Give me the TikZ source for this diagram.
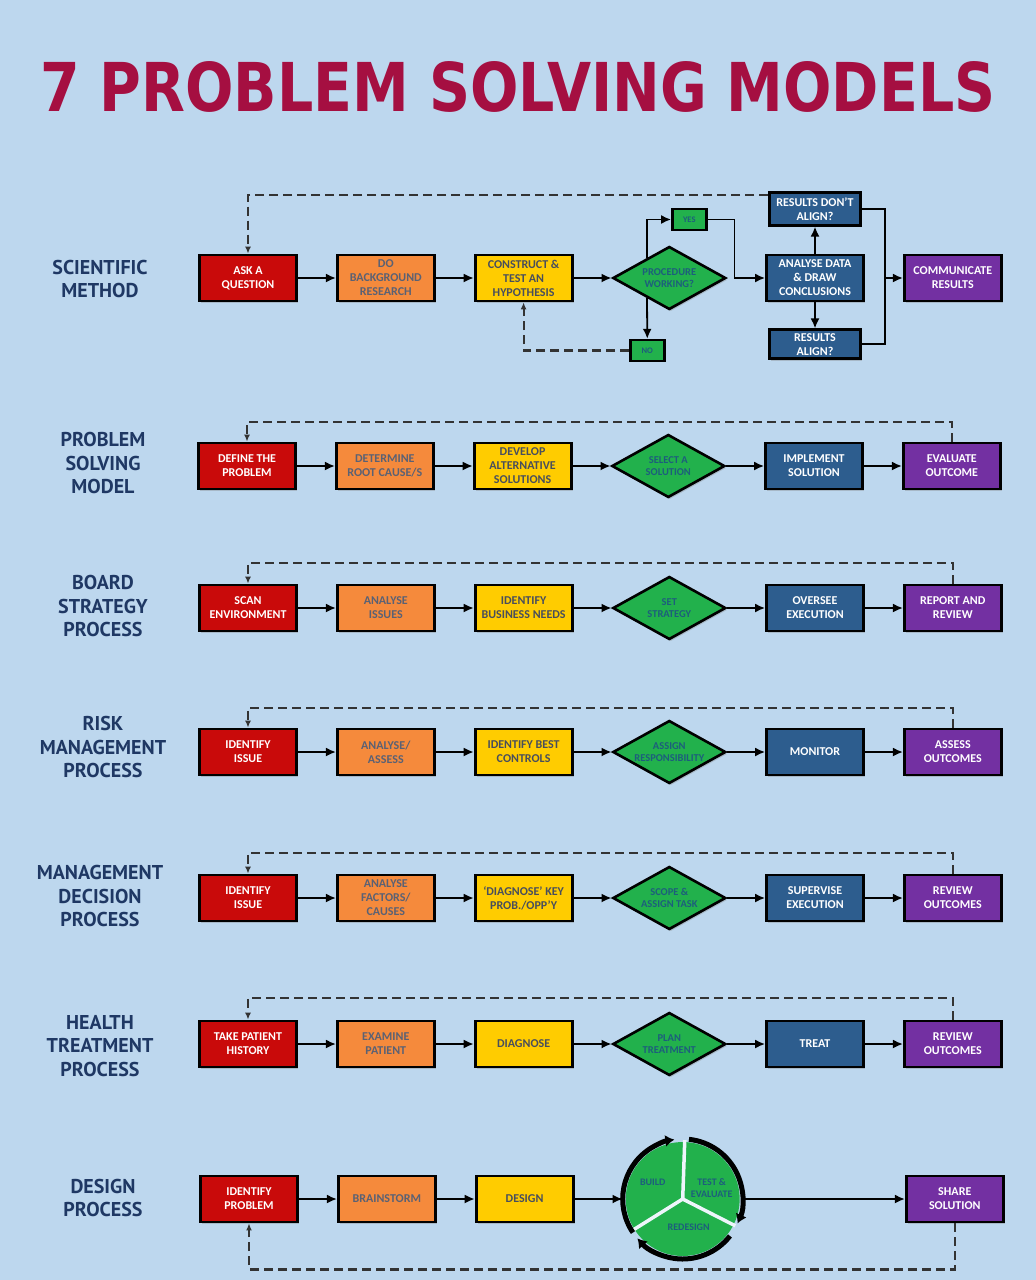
\documentclass[tikz,border=0pt]{standalone}
\usepackage{fontspec}
\setmainfont{Carlito}
\newfontfamily\labelfont{PT Sans}
\newfontfamily\titlefont{DejaVu Sans}
\usetikzlibrary{calc,positioning,shapes.geometric,arrows.meta,shadows}

\definecolor{bgblue}{HTML}{BDD7EE}
\definecolor{boxred}{HTML}{C90A0A}
\definecolor{boxorange}{HTML}{F58A3C}
\definecolor{boxyellow}{HTML}{FFCC00}
\definecolor{boxgreen}{HTML}{22B14C}
\definecolor{boxblue}{HTML}{2D5D8E}
\definecolor{boxpurple}{HTML}{7330A2}
\definecolor{titlered}{HTML}{A50F41}
\definecolor{labelblue}{HTML}{1F3864}
\definecolor{dimtext}{HTML}{5A6174}
\definecolor{tealtext}{HTML}{1D5E7C}

\tikzset{
  stepbox/.style={rectangle, draw=black, line width=2.8pt, minimum width=97pt, minimum height=46pt,
    inner sep=2pt, align=center, font=\bfseries\fontsize{12}{14}\selectfont,
    drop shadow={shadow xshift=1.5pt, shadow yshift=-2pt, opacity=.35}},
  redbox/.style={stepbox, fill=boxred, text=white},
  orangebox/.style={stepbox, fill=boxorange, text=dimtext},
  yellowbox/.style={stepbox, fill=boxyellow, text=dimtext!80!black},
  bluebox/.style={stepbox, fill=boxblue, text=white},
  purplebox/.style={stepbox, fill=boxpurple, text=white},
  decision/.style={diamond, draw=black, line width=2.6pt, fill=boxgreen, text=tealtext, aspect=1.8,
    minimum width=113pt, minimum height=63pt, inner sep=0pt, align=center,
    font=\bfseries\fontsize{10.5}{12}\selectfont,
    drop shadow={shadow xshift=1.5pt, shadow yshift=-2pt, opacity=.35}},
  tinybox/.style={rectangle, draw=black, line width=2.4pt, fill=boxgreen, text=tealtext,
    minimum width=34pt, minimum height=21pt, inner sep=1pt, font=\bfseries\fontsize{8.5}{9}\selectfont},
  rowlabel/.style={text=labelblue, align=center, font=\labelfont\bfseries\fontsize{20}{23.5}\selectfont},
  cyclelabel/.style={text=tealtext, align=center, inner sep=0pt, font=\bfseries\fontsize{10}{11.5}\selectfont},
  flow/.style={line width=1.8pt, -{Latex[length=10pt,width=9pt]}},
  feedback/.style={line width=2.2pt, draw=black!80, dash pattern=on 9pt off 5pt, -{Latex[length=7pt,width=6pt]}},
  ring/.style={line width=5pt, -{Latex[length=9pt,width=12pt]}}
}

\begin{document}
\begin{tikzpicture}[x=1pt, y=-1pt, node distance=38pt]
\useasboundingbox (0,0) rectangle (1036,1280);
\fill[bgblue] (0,0) rectangle (1036,1280);

\node[text=titlered, inner sep=0pt] (title) at (518,87) {\resizebox{955pt}{50pt}{\titlefont\bfseries 7 PROBLEM SOLVING MODELS}};

% scientific method
\node[rowlabel] (sci) at (100,279) {SCIENTIFIC\\METHOD};
\node[redbox] (ask) at (248,278) {ASK A\\QUESTION};
\node[orangebox, right=of ask] (bg) {DO\\BACKGROUND\\RESEARCH};
\node[yellowbox, right=of bg] (hyp) {CONSTRUCT \&\\TEST AN\\HYPOTHESIS};
\node[decision, right=of hyp] (proc) {PROCEDURE\\WORKING?};
\node[bluebox, right=of proc] (analyse) {ANALYSE DATA\\\& DRAW\\CONCLUSIONS};
\node[bluebox, minimum width=91pt, minimum height=33pt, above=27pt of analyse] (dont) {RESULTS DON'T\\ALIGN?};
\node[bluebox, minimum width=91pt, minimum height=29pt, below=26pt of analyse] (align) {RESULTS\\ALIGN?};
\node[purplebox, right=of analyse] (comm) {COMMUNICATE\\RESULTS};
\node[tinybox, above=14pt of proc.north, xshift=20pt] (yes) {YES};
\node[tinybox, below=28pt of proc.south, xshift=-22pt] (no) {NO};
\coordinate[right=20pt of analyse] (merge);

\draw[flow] (ask) -- (bg);
\draw[flow] (bg) -- (hyp);
\draw[flow] (hyp) -- (proc);
\draw[flow] ($(proc.north)!0.386!(proc.west)$) |- (yes.west);
\draw[flow] ($(proc.south)!0.386!(proc.west)$) -- (no.north);
\draw[flow] (yes.east) -- ++(27,0) |- (analyse.west);
\draw[feedback] (no.west) -| (hyp.south);
\draw[flow] (analyse) -- (dont);
\draw[flow] (analyse) -- (align);
\draw[line width=1.8pt] (dont.east) -| (merge);
\draw[line width=1.8pt] (align.east) -| (merge);
\draw[flow] (merge) -- (comm.west);
\draw[feedback] ([yshift=-4pt]dont.north west) -| (ask.north);

% problem solving model
\node[rowlabel] (psm) at (103,463) {PROBLEM\\SOLVING\\MODEL};
\node[redbox] (def) at (247,466) {DEFINE THE\\PROBLEM};
\node[orangebox, right=of def] (cause) {DETERMINE\\ROOT CAUSE/S};
\node[yellowbox, right=of cause] (alt) {DEVELOP\\ALTERNATIVE\\SOLUTIONS};
\node[decision, right=of alt] (sel) {SELECT A\\SOLUTION};
\node[bluebox, right=of sel] (impl) {IMPLEMENT\\SOLUTION};
\node[purplebox, right=of impl] (eval) {EVALUATE\\OUTCOME};
\draw[flow] (def) -- (cause);
\draw[flow] (cause) -- (alt);
\draw[flow] (alt) -- (sel);
\draw[flow] (sel) -- (impl);
\draw[flow] (impl) -- (eval);
\draw[feedback] (eval.north) -- ++(0,-20) -| (def.north);

% board strategy process
\node[rowlabel] (bsp) at (103,606) {BOARD\\STRATEGY\\PROCESS};
\node[redbox] (scan) at (248,608) {SCAN\\ENVIRONMENT};
\node[orangebox, right=of scan] (iss) {ANALYSE\\ISSUES};
\node[yellowbox, right=of iss] (needs) {IDENTIFY\\BUSINESS NEEDS};
\node[decision, right=of needs] (strat) {SET\\STRATEGY};
\node[bluebox, right=of strat] (overs) {OVERSEE\\EXECUTION};
\node[purplebox, right=of overs] (rep) {REPORT AND\\REVIEW};
\draw[flow] (scan) -- (iss);
\draw[flow] (iss) -- (needs);
\draw[flow] (needs) -- (strat);
\draw[flow] (strat) -- (overs);
\draw[flow] (overs) -- (rep);
\draw[feedback] (rep.north) -- ++(0,-21) -| (scan.north);

% risk management process
\node[rowlabel] (rmp) at (103,747) {RISK\\MANAGEMENT\\PROCESS};
\node[redbox] (idr) at (248,752) {IDENTIFY\\ISSUE};
\node[orangebox, right=of idr] (asr) {ANALYSE/\\ASSESS};
\node[yellowbox, right=of asr] (ctrl) {IDENTIFY BEST\\CONTROLS};
\node[decision, right=of ctrl] (resp) {ASSIGN\\RESPONSIBILITY};
\node[bluebox, right=of resp] (mon) {MONITOR};
\node[purplebox, right=of mon] (asso) {ASSESS\\OUTCOMES};
\draw[flow] (idr) -- (asr);
\draw[flow] (asr) -- (ctrl);
\draw[flow] (ctrl) -- (resp);
\draw[flow] (resp) -- (mon);
\draw[flow] (mon) -- (asso);
\draw[feedback] (asso.north) -- ++(0,-20) -| (idr.north);

% management decision process
\node[rowlabel] (mdp) at (100,896) {MANAGEMENT\\DECISION\\PROCESS};
\node[redbox] (idm) at (248,898) {IDENTIFY\\ISSUE};
\node[orangebox, right=of idm] (fac) {ANALYSE\\FACTORS/\\CAUSES};
\node[yellowbox, right=of fac] (diag) {`DIAGNOSE' KEY\\PROB./OPP'Y};
\node[decision, right=of diag] (scope) {SCOPE \&\\ASSIGN TASK};
\node[bluebox, right=of scope] (sup) {SUPERVISE\\EXECUTION};
\node[purplebox, right=of sup] (revm) {REVIEW\\OUTCOMES};
\draw[flow] (idm) -- (fac);
\draw[flow] (fac) -- (diag);
\draw[flow] (diag) -- (scope);
\draw[flow] (scope) -- (sup);
\draw[flow] (sup) -- (revm);
\draw[feedback] (revm.north) -- ++(0,-21) -| (idm.north);

% health treatment process
\node[rowlabel] (htp) at (100,1046) {HEALTH\\TREATMENT\\PROCESS};
\node[redbox] (hist) at (248,1044) {TAKE PATIENT\\HISTORY};
\node[orangebox, right=of hist] (exam) {EXAMINE\\PATIENT};
\node[yellowbox, right=of exam] (diagh) {DIAGNOSE};
\node[decision, right=of diagh] (plan) {PLAN\\TREATMENT};
\node[bluebox, right=of plan] (treat) {TREAT};
\node[purplebox, right=of treat] (revh) {REVIEW\\OUTCOMES};
\draw[flow] (hist) -- (exam);
\draw[flow] (exam) -- (diagh);
\draw[flow] (diagh) -- (plan);
\draw[flow] (plan) -- (treat);
\draw[flow] (treat) -- (revh);
\draw[feedback] (revh.north) -- ++(0,-22) -| (hist.north);

% design process
\node[rowlabel] (dsp) at (103,1198) {DESIGN\\PROCESS};
\node[redbox] (idp) at (249,1199) {IDENTIFY\\PROBLEM};
\node[orangebox, right=of idp] (brain) {BRAINSTORM};
\node[yellowbox, right=of brain] (des) {DESIGN};
\node[circle, minimum size=120pt, inner sep=0pt, right=48pt of des] (cyc) {};
\node[purplebox, right=162pt of cyc] (share) {SHARE\\SOLUTION};
\begin{scope}[shift={(cyc.center)}, x=1pt, y=1pt]
  \fill[boxgreen] (0,0) circle[radius=57];
  \draw[line width=3.5pt, white!75!bgblue] (0,0) -- (88:59);
  \draw[line width=3.5pt, white!75!bgblue] (0,0) -- (212:59);
  \draw[line width=3.5pt, white!75!bgblue] (0,0) -- (333:59);
  \draw[ring] (214:60) arc[start angle=214, end angle=98, radius=60];
  \draw[ring] (84:60) arc[start angle=84, end angle=-24, radius=60];
  \draw[ring] (-38:60) arc[start angle=-38, end angle=-139, radius=60];
  \node[cyclelabel] (build) at (-30,17) {BUILD};
  \node[cyclelabel] (test) at (29,11) {TEST \&\\EVALUATE};
  \node[cyclelabel] (redes) at (6,-28) {REDESIGN};
\end{scope}
\draw[flow] (idp) -- (brain);
\draw[flow] (brain) -- (des);
\draw[flow] (des) -- (cyc);
\draw[flow] (cyc) -- (share);
\draw[feedback] (share.south) -- ++(0,46) -| (idp.south);

\end{tikzpicture}
\end{document}
